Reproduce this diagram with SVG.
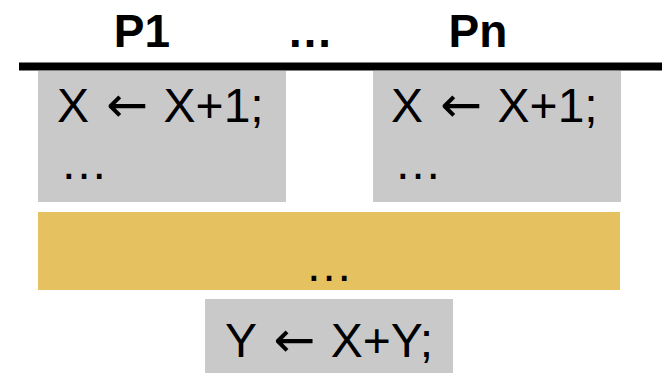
<svg xmlns="http://www.w3.org/2000/svg" width="662" height="373" viewBox="0 0 662 373">
  <style>
    .hdr { font-family: "Liberation Sans", Arial, sans-serif; font-weight: bold; font-size: 46px; fill: #000; }
    .code { font-family: "Liberation Sans", Arial, sans-serif; font-size: 48px; fill: #000; }
    .arr { font-family: "DejaVu Sans", sans-serif; font-size: 50px; }
    .stmt { fill: #c9c9c9; }
    .barrier { fill: #e6c15f; }
  </style>
  <rect width="662" height="373" fill="#fff"/>

  <!-- process headers -->
  <g id="headers">
    <text class="hdr" x="142" y="47" text-anchor="middle">P1</text>
    <text class="hdr" x="310" y="47" text-anchor="middle">…</text>
    <text class="hdr" x="478" y="47" text-anchor="middle">Pn</text>
  </g>

  <!-- timeline bar -->
  <rect id="bar" x="19" y="62.5" width="643" height="8" fill="#000"/>

  <g id="p1">
    <rect class="stmt" x="38" y="71" width="248" height="131"/>
    <text class="code" x="57" y="122">X <tspan class="arr" dx="4">←</tspan><tspan dx="2"> X+1;</tspan></text>
    <text class="code" x="60" y="179">…</text>
  </g>

  <g id="pn">
    <rect class="stmt" x="373" y="71" width="248" height="131"/>
    <text class="code" x="391" y="122">X <tspan class="arr" dx="4">←</tspan><tspan dx="2"> X+1;</tspan></text>
    <text class="code" x="394" y="179">…</text>
  </g>

  <g id="sync">
    <rect class="barrier" x="38" y="212" width="582" height="78"/>
    <text class="code" x="329" y="281" text-anchor="middle">…</text>
  </g>

  <g id="final">
    <rect class="stmt" x="205" y="299" width="248" height="74"/>
    <text class="code" x="329" y="357" text-anchor="middle">Y <tspan class="arr" dx="4">←</tspan><tspan dx="2"> X+Y;</tspan></text>
  </g>
</svg>
